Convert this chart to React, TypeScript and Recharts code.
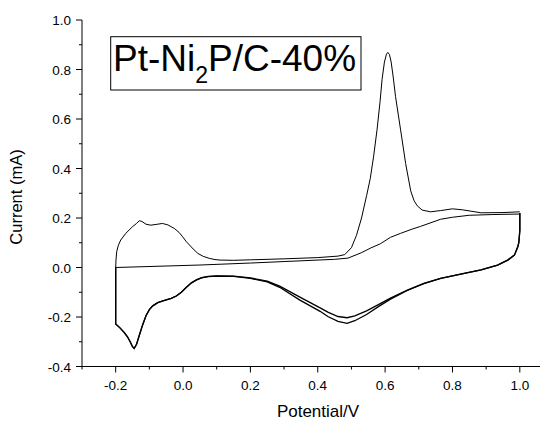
import React from 'react';
import { LineChart, Line, XAxis, YAxis } from 'recharts';

// cyclic voltammogram, potential (V) vs current (mA)
const forwardWithPeaks: [number, number][] = [
  [-0.2, 0.0], [-0.199, 0.03], [-0.197, 0.064], [-0.192, 0.09], [-0.185, 0.111],
  [-0.17, 0.138], [-0.15, 0.165], [-0.138, 0.178], [-0.13, 0.189], [-0.122, 0.186],
  [-0.11, 0.175], [-0.096, 0.171], [-0.08, 0.174], [-0.061, 0.178], [-0.045, 0.172],
  [-0.026, 0.158], [-0.012, 0.142], [-0.001, 0.124], [0.01, 0.104], [0.019, 0.091],
  [0.03, 0.075], [0.044, 0.057], [0.06, 0.045], [0.078, 0.037], [0.095, 0.032],
  [0.11, 0.03], [0.15, 0.029], [0.2, 0.031], [0.3, 0.035],
  [0.4, 0.04], [0.46, 0.046], [0.48, 0.052], [0.5, 0.08], [0.515, 0.13],
  [0.53, 0.2], [0.545, 0.29], [0.556, 0.36], [0.566, 0.45], [0.576, 0.556],
  [0.585, 0.67], [0.591, 0.76], [0.598, 0.83], [0.604, 0.862], [0.608, 0.869],
  [0.613, 0.86], [0.618, 0.83], [0.624, 0.77], [0.631, 0.69], [0.646, 0.556],
  [0.661, 0.42], [0.676, 0.31], [0.686, 0.27], [0.695, 0.25], [0.71, 0.232],
  [0.735, 0.225], [0.765, 0.23], [0.8, 0.237], [0.83, 0.233], [0.885, 0.221],
  [0.95, 0.222], [1.0, 0.225],
];

const forwardFlat: [number, number][] = [
  [-0.2, 0.0], [0.05, 0.01], [0.2, 0.018], [0.3, 0.024], [0.45, 0.033],
  [0.49, 0.038], [0.53, 0.06], [0.556, 0.078], [0.586, 0.096], [0.616, 0.122],
  [0.646, 0.138], [0.68, 0.155], [0.705, 0.166], [0.765, 0.195], [0.8, 0.203],
  [0.85, 0.211], [0.92, 0.214], [1.0, 0.216],
];

const reverseFirst: [number, number][] = [
  [1.0, 0.22], [1.0, 0.15], [0.997, 0.1], [0.994, 0.084], [0.984, 0.05],
  [0.964, 0.03], [0.934, 0.01], [0.885, -0.01], [0.835, -0.024], [0.765, -0.044],
  [0.715, -0.064], [0.666, -0.091], [0.616, -0.124], [0.58, -0.15], [0.545, -0.175],
  [0.51, -0.195], [0.487, -0.203], [0.46, -0.198], [0.43, -0.18], [0.407, -0.163],
  [0.347, -0.12], [0.287, -0.075], [0.25, -0.055], [0.2, -0.042], [0.15, -0.035],
  [0.1, -0.034], [0.075, -0.036], [0.055, -0.041], [0.04, -0.05], [0.025, -0.062],
  [0.01, -0.08], [-0.005, -0.1], [-0.02, -0.115], [-0.035, -0.125], [-0.055, -0.133],
  [-0.075, -0.142], [-0.09, -0.155], [-0.1, -0.17], [-0.11, -0.195], [-0.12, -0.232],
  [-0.13, -0.275], [-0.138, -0.31], [-0.145, -0.327], [-0.15, -0.32], [-0.157, -0.3],
  [-0.165, -0.28], [-0.175, -0.262], [-0.188, -0.243], [-0.2, -0.228], [-0.2, 0.0],
];

const reverseSecond: [number, number][] = [
  [1.0, 0.22], [1.0, 0.15], [0.997, 0.1], [0.994, 0.084], [0.984, 0.05],
  [0.964, 0.03], [0.934, 0.01], [0.885, -0.01], [0.835, -0.024], [0.765, -0.044],
  [0.715, -0.065], [0.666, -0.093], [0.616, -0.128], [0.58, -0.158], [0.545, -0.19],
  [0.51, -0.215], [0.487, -0.226], [0.46, -0.218], [0.43, -0.198], [0.407, -0.177],
  [0.347, -0.132], [0.287, -0.08], [0.25, -0.058], [0.2, -0.044], [0.15, -0.036],
  [0.1, -0.035], [0.075, -0.037], [0.055, -0.042], [0.04, -0.05], [0.025, -0.062],
  [0.01, -0.08], [-0.005, -0.1], [-0.02, -0.115], [-0.035, -0.125], [-0.055, -0.133],
  [-0.075, -0.142], [-0.09, -0.155], [-0.1, -0.17], [-0.11, -0.195], [-0.12, -0.232],
  [-0.13, -0.275], [-0.138, -0.31], [-0.145, -0.327], [-0.15, -0.32], [-0.157, -0.3],
  [-0.165, -0.28], [-0.175, -0.262], [-0.188, -0.243], [-0.2, -0.228], [-0.2, 0.0],
];

const xTicks = [-0.3, -0.2, -0.1, 0.0, 0.1, 0.2, 0.3, 0.4, 0.5, 0.6, 0.7, 0.8, 0.9, 1.0];
const yTicks = [-0.4, -0.3, -0.2, -0.1, 0.0, 0.1, 0.2, 0.3, 0.4, 0.5, 0.6, 0.7, 0.8, 0.9, 1.0];

const font = 'Arial, "Liberation Sans", sans-serif';

const toPoints = (arr: [number, number][]) =>
  arr.map(([potential, current]) => ({ potential, current }));

const isMajor = (v: number) => Math.round(v * 10) % 2 === 0;

const XTick = ({ x, y, payload }: any) => {
  const major = isMajor(payload.value);
  return (
    <g>
      <line x1={x} y1={y} x2={x} y2={y + (major ? 6 : 3)} stroke="#000" />
      {major && (
        <text x={x} y={y + 23.5} textAnchor="middle" fontSize={13.5} fontFamily={font} fill="#000">
          {payload.value.toFixed(1)}
        </text>
      )}
    </g>
  );
};

const YTick = ({ x, y, payload }: any) => {
  const major = isMajor(payload.value);
  return (
    <g>
      <line x1={x} y1={y} x2={x - (major ? 6 : 3)} y2={y} stroke="#000" />
      {major && (
        <text x={x - 11} y={y + 5} textAnchor="end" fontSize={13.5} fontFamily={font} fill="#000">
          {payload.value.toFixed(1)}
        </text>
      )}
    </g>
  );
};

export default function App() {
  const series = [forwardWithPeaks, forwardFlat, reverseFirst, reverseSecond];
  return (
    <div style={{ position: 'relative', width: 540, height: 413, overflow: 'hidden' }}>
      <LineChart width={560} height={413} margin={{ top: 12, right: 14.5, bottom: 24.5, left: 14 }}>
        <XAxis
          dataKey="potential"
          type="number"
          domain={[-0.3, 1.1]}
          ticks={xTicks}
          interval={0}
          height={30}
          tickSize={0}
          tickMargin={0}
          tickLine={false}
          tick={<XTick />}
          axisLine={{ stroke: '#000' }}
          allowDataOverflow
        />
        <YAxis
          type="number"
          domain={[-0.4, 1.0]}
          ticks={yTicks}
          interval={0}
          width={60}
          tickSize={0}
          tickMargin={0}
          tickLine={false}
          tick={<YTick />}
          axisLine={{ stroke: '#000' }}
          allowDataOverflow
        />
        {series.map((s, i) => (
          <Line
            key={i}
            data={toPoints(s)}
            dataKey="current"
            type="linear"
            stroke="#000"
            strokeWidth={i < 2 ? 1 : 1.3}
            dot={false}
            activeDot={false}
            isAnimationActive={false}
          />
        ))}
      </LineChart>
      <svg width={540} height={413} style={{ position: 'absolute', left: 0, top: 0, pointerEvents: 'none' }}>
        <rect x={102.7} y={28.7} width={250.3} height={53.3} fill="#fff" stroke="#000" strokeWidth={1} />
        <text x={105} y={63} fontSize={37} fontFamily={font} fill="#000">
          Pt-Ni
          <tspan fontSize={23} dy={12}>2</tspan>
          <tspan dy={-12}>P/C-40%</tspan>
        </text>
        <text x={310} y={408.5} textAnchor="middle" fontSize={17} fontFamily={font} fill="#000">
          Potential/V
        </text>
        <text
          x={14}
          y={189}
          textAnchor="middle"
          fontSize={16.5}
          fontFamily={font}
          fill="#000"
          transform="rotate(-90 14 189)"
        >
          Current (mA)
        </text>
      </svg>
    </div>
  );
}
